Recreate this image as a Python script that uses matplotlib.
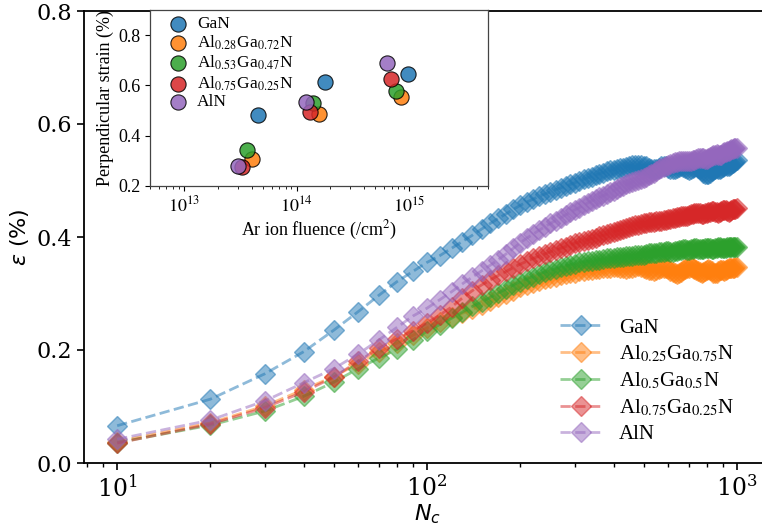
import matplotlib
matplotlib.use("Agg")
import matplotlib.pyplot as plt
from matplotlib.font_manager import FontProperties

# ---------------- data ----------------
Nc = [10, 20, 30, 40, 50, 60, 70, 80, 90, 100,
      110, 120, 130, 140, 150, 160, 170, 180, 190, 200,
      210, 220, 230, 240, 250, 260, 270, 280, 290, 300,
      310, 320, 330, 340, 350, 360, 370, 380, 390, 400,
      410, 420, 430, 440, 450, 460, 470, 480, 490, 500,
      510, 520, 530, 540, 550, 560, 570, 580, 590, 600,
      610, 620, 630, 640, 650, 660, 670, 680, 690, 700,
      710, 720, 730, 740, 750, 760, 770, 780, 790, 800,
      810, 820, 830, 840, 850, 860, 870, 880, 890, 900,
      910, 920, 930, 940, 950, 960, 970, 980, 990, 1000]

eps_GaN = [0.066, 0.113, 0.158, 0.197, 0.235, 0.268, 0.297, 0.321, 0.339, 0.355,
           0.367, 0.380, 0.392, 0.403, 0.414, 0.424, 0.433, 0.441, 0.449, 0.456,
           0.462, 0.467, 0.472, 0.476, 0.480, 0.484, 0.487, 0.490, 0.493, 0.496,
           0.499, 0.502, 0.505, 0.507, 0.510, 0.512, 0.514, 0.516, 0.518, 0.519,
           0.521, 0.522, 0.523, 0.524, 0.526, 0.527, 0.528, 0.528, 0.527, 0.526,
           0.525, 0.523, 0.521, 0.520, 0.521, 0.523, 0.525, 0.526, 0.525, 0.523,
           0.521, 0.520, 0.521, 0.522, 0.524, 0.525, 0.524, 0.522, 0.520, 0.519,
           0.520, 0.522, 0.524, 0.525, 0.523, 0.520, 0.517, 0.514, 0.512, 0.511,
           0.511, 0.513, 0.516, 0.519, 0.521, 0.522, 0.521, 0.520, 0.522, 0.524,
           0.526, 0.527, 0.526, 0.525, 0.527, 0.529, 0.531, 0.533, 0.535, 0.536]

eps_Al25 = [0.038, 0.071, 0.101, 0.130, 0.153, 0.176, 0.196, 0.212, 0.226, 0.239,
            0.250, 0.258, 0.265, 0.272, 0.279, 0.286, 0.293, 0.299, 0.305, 0.311,
            0.315, 0.319, 0.322, 0.325, 0.328, 0.330, 0.332, 0.334, 0.336, 0.337,
            0.339, 0.340, 0.341, 0.342, 0.343, 0.344, 0.345, 0.346, 0.346, 0.347,
            0.347, 0.346, 0.345, 0.344, 0.345, 0.346, 0.347, 0.348, 0.347, 0.346,
            0.344, 0.342, 0.341, 0.340, 0.341, 0.343, 0.345, 0.346, 0.345, 0.343,
            0.340, 0.338, 0.336, 0.335, 0.336, 0.338, 0.341, 0.343, 0.345, 0.346,
            0.347, 0.346, 0.344, 0.342, 0.340, 0.338, 0.337, 0.338, 0.340, 0.342,
            0.343, 0.341, 0.339, 0.337, 0.336, 0.337, 0.339, 0.341, 0.342, 0.341,
            0.340, 0.341, 0.343, 0.345, 0.346, 0.346, 0.345, 0.346, 0.347, 0.347]

eps_Al50 = [0.036, 0.067, 0.092, 0.118, 0.143, 0.167, 0.186, 0.201, 0.218, 0.233,
            0.245, 0.256, 0.267, 0.277, 0.285, 0.293, 0.301, 0.308, 0.315, 0.321,
            0.326, 0.330, 0.334, 0.338, 0.341, 0.344, 0.347, 0.349, 0.351, 0.353,
            0.355, 0.356, 0.357, 0.358, 0.359, 0.360, 0.361, 0.362, 0.362, 0.363,
            0.364, 0.365, 0.365, 0.366, 0.366, 0.367, 0.368, 0.368, 0.369, 0.369,
            0.370, 0.371, 0.371, 0.372, 0.372, 0.373, 0.374, 0.374, 0.375, 0.375,
            0.374, 0.374, 0.375, 0.376, 0.377, 0.377, 0.378, 0.378, 0.377, 0.377,
            0.378, 0.379, 0.380, 0.380, 0.379, 0.378, 0.378, 0.379, 0.380, 0.381,
            0.381, 0.380, 0.379, 0.379, 0.380, 0.381, 0.382, 0.382, 0.381, 0.380,
            0.380, 0.381, 0.382, 0.383, 0.383, 0.382, 0.382, 0.383, 0.383, 0.383]

eps_Al75 = [0.035, 0.069, 0.098, 0.126, 0.152, 0.180, 0.203, 0.220, 0.234, 0.248,
            0.262, 0.276, 0.292, 0.305, 0.315, 0.324, 0.332, 0.339, 0.346, 0.352,
            0.357, 0.362, 0.366, 0.370, 0.374, 0.377, 0.380, 0.383, 0.386, 0.389,
            0.391, 0.393, 0.395, 0.397, 0.399, 0.401, 0.403, 0.405, 0.407, 0.409,
            0.411, 0.412, 0.414, 0.416, 0.418, 0.419, 0.421, 0.422, 0.423, 0.424,
            0.425, 0.426, 0.426, 0.427, 0.428, 0.428, 0.429, 0.430, 0.430, 0.431,
            0.432, 0.433, 0.434, 0.435, 0.436, 0.437, 0.437, 0.438, 0.438, 0.439,
            0.440, 0.441, 0.442, 0.442, 0.443, 0.442, 0.441, 0.441, 0.442, 0.443,
            0.444, 0.445, 0.446, 0.446, 0.445, 0.444, 0.443, 0.444, 0.446, 0.447,
            0.448, 0.447, 0.446, 0.445, 0.446, 0.447, 0.449, 0.450, 0.450, 0.451]

eps_AlN = [0.042, 0.076, 0.110, 0.142, 0.167, 0.193, 0.218, 0.240, 0.260, 0.274,
           0.289, 0.303, 0.317, 0.329, 0.340, 0.350, 0.360, 0.370, 0.380, 0.390,
           0.398, 0.405, 0.412, 0.418, 0.424, 0.429, 0.434, 0.439, 0.444, 0.448,
           0.452, 0.456, 0.460, 0.464, 0.467, 0.470, 0.473, 0.476, 0.479, 0.482,
           0.485, 0.488, 0.491, 0.493, 0.495, 0.497, 0.499, 0.501, 0.503, 0.505,
           0.507, 0.509, 0.511, 0.514, 0.517, 0.520, 0.522, 0.524, 0.526, 0.528,
           0.530, 0.531, 0.532, 0.533, 0.534, 0.535, 0.535, 0.535, 0.534, 0.534,
           0.535, 0.536, 0.537, 0.538, 0.539, 0.540, 0.540, 0.539, 0.538, 0.538,
           0.539, 0.541, 0.543, 0.545, 0.546, 0.547, 0.546, 0.545, 0.546, 0.548,
           0.550, 0.551, 0.552, 0.553, 0.554, 0.555, 0.556, 0.557, 0.558, 0.558]

main_labels = ["GaN", r"Al$_{0.25}$Ga$_{0.75}$N", r"Al$_{0.5}$Ga$_{0.5}$N",
               r"Al$_{0.75}$Ga$_{0.25}$N", "AlN"]
main_series = [eps_GaN, eps_Al25, eps_Al50, eps_Al75, eps_AlN]

# inset data
inset_labels = ["GaN", r"Al$_{0.28}$Ga$_{0.72}$N", r"Al$_{0.53}$Ga$_{0.47}$N",
                r"Al$_{0.75}$Ga$_{0.25}$N", "AlN"]
fluence_GaN = [4.5e13, 1.8e14, 9.8e14]
strain_GaN = [0.481, 0.614, 0.647]
fluence_Al28 = [4.0e13, 1.58e14, 8.5e14]
strain_Al28 = [0.308, 0.488, 0.553]
fluence_Al53 = [3.6e13, 1.4e14, 7.6e14]
strain_Al53 = [0.344, 0.532, 0.578]
fluence_Al75 = [3.25e13, 1.32e14, 6.9e14]
strain_Al75 = [0.277, 0.493, 0.624]
fluence_AlN = [3.05e13, 1.22e14, 6.4e14]
strain_AlN = [0.278, 0.533, 0.689]
inset_x = [fluence_GaN, fluence_Al28, fluence_Al53, fluence_Al75, fluence_AlN]
inset_y = [strain_GaN, strain_Al28, strain_Al53, strain_Al75, strain_AlN]

colors = ["#1f77b4", "#ff7f0e", "#2ca02c", "#d62728", "#9467bd"]

# ---------------- figure ----------------
fig = plt.figure(figsize=(7.62, 5.29), dpi=100)
ax = fig.add_axes([84 / 762, 1 - 463 / 529, (770 - 84) / 762, (463 - 11) / 529])

for y, lab, c in zip(main_series, main_labels, colors):
    ax.plot(Nc, y, linestyle="--", marker="D", color=c, markersize=10,
            linewidth=2, alpha=0.5, label=lab)

ax.set_xscale("log")
ax.set_xlim(10 ** 0.893, 10 ** 3.107)
ax.set_ylim(0, 0.8)
ax.set_yticks([0.0, 0.2, 0.4, 0.6, 0.8])
ax.set_yticklabels(["0.0", "0.2", "0.4", "0.6", "0.8"],
                   fontfamily="DejaVu Serif", fontsize=16)
ax.set_xticks([10, 100, 1000])
ax.set_xticklabels([r"$10^1$", r"$10^2$", r"$10^3$"], fontsize=17,
                   math_fontfamily="dejavuserif")
ax.tick_params(axis="both", which="major", length=5, width=1.2)
ax.tick_params(axis="x", which="minor", length=3, width=1)
for s in ax.spines.values():
    s.set_linewidth(1.3)
ax.spines["right"].set_visible(False)

ax.set_xlabel(r"$N_c$", fontsize=16, math_fontfamily="dejavusans", labelpad=1)
ax.set_ylabel(r"$\varepsilon$ (%)", fontsize=16, math_fontfamily="dejavusans")

leg_fp = FontProperties(family="Liberation Serif", size=15, math_fontfamily="stix")
ax.legend(loc="lower right", bbox_to_anchor=(0.975, 0.0), prop=leg_fp,
          frameon=False, handlelength=2.0, labelspacing=0.3)

# ---------------- inset ----------------
ins = fig.add_axes([150 / 762, 1 - 186 / 529, (488 - 150) / 762, (186 - 10) / 529])
for xs, ys, lab, c in zip(inset_x, inset_y, inset_labels, colors):
    ins.scatter(xs, ys, s=120, color=c, edgecolor="black", linewidth=0.8,
                alpha=0.85, label=lab, zorder=3)
ins.set_xscale("log")
ins.set_xlim(5e12, 5e15)
ins.set_ylim(0.2, 0.9)
ins.set_yticks([0.2, 0.4, 0.6, 0.8])
ins.set_yticklabels(["0.2", "0.4", "0.6", "0.8"], fontfamily="Liberation Serif",
                    fontsize=13)
ins.set_xticks([1e13, 1e14, 1e15])
ins.set_xticklabels([r"$10^{13}$", r"$10^{14}$", r"$10^{15}$"],
                    fontfamily="Liberation Serif", fontsize=13,
                    math_fontfamily="stix")
ins.tick_params(axis="both", which="major", length=3.5, width=0.8)
ins.tick_params(axis="x", which="minor", length=2, width=0.6)
for s in ins.spines.values():
    s.set_linewidth(0.9)
    s.set_color("#444444")
ins.set_xlabel(r"Ar ion fluence (/cm$^2$)", fontfamily="Liberation Serif",
               fontsize=13, math_fontfamily="stix", labelpad=2)
ins.set_ylabel("Perpendicular strain (%)", fontfamily="Liberation Serif",
               fontsize=13, labelpad=3)
ins_fp = FontProperties(family="Liberation Serif", size=12.5, math_fontfamily="stix")
ins.legend(loc="upper left", prop=ins_fp, frameon=False, handletextpad=0.1,
           labelspacing=0.1, borderaxespad=0.2, markerscale=1.0,
           bbox_to_anchor=(0.0, 1.025))

fig.savefig("out.png", dpi=100)
